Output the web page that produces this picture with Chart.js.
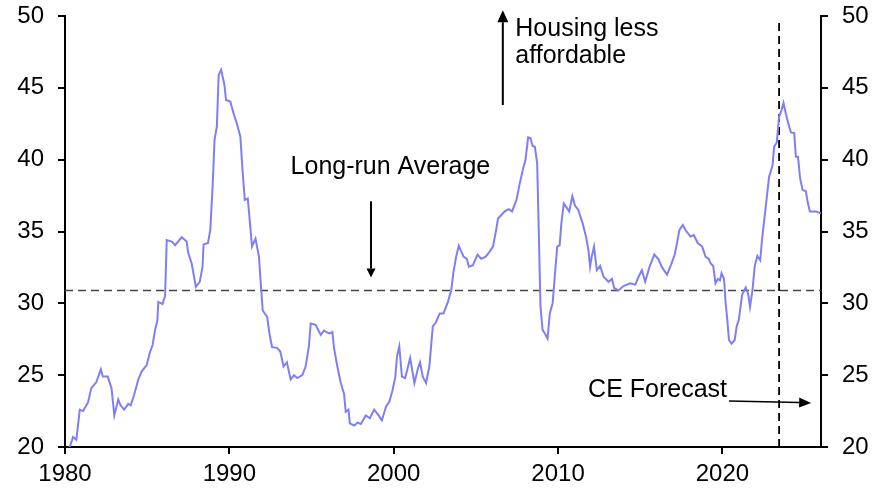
<!DOCTYPE html>
<html>
<head>
<meta charset="utf-8">
<script src="https://cdn.jsdelivr.net/npm/chart.js@4.4.1/dist/chart.umd.min.js"></script>
<style>
  html, body { margin: 0; padding: 0; background: #fff; }
  #wrap { width: 886px; height: 498px; }
</style>
</head>
<body>
<div id="wrap"><canvas id="chart" width="886" height="498"></canvas></div>
<script>
// decimal years and ratio
const years = [
  1980.29, 1980.49, 1980.69, 1980.9, 1981.1, 1981.4, 1981.6, 1981.9, 1982.18, 1982.3,
  1982.6, 1982.83, 1983.0, 1983.24, 1983.38, 1983.6, 1983.85, 1984.0, 1984.2, 1984.46,
  1984.66, 1984.97, 1985.17, 1985.33, 1985.48, 1985.62, 1985.68, 1985.93, 1986.09, 1986.19,
  1986.5, 1986.7, 1987.1, 1987.4, 1987.5, 1987.7, 1987.8, 1987.96, 1988.2, 1988.37,
  1988.43, 1988.7, 1988.84, 1988.98, 1989.1, 1989.24, 1989.35, 1989.5, 1989.7, 1989.8,
  1990.06, 1990.26, 1990.46, 1990.67, 1990.8, 1990.94, 1991.12, 1991.2, 1991.38, 1991.59,
  1991.8, 1991.9, 1992.03, 1992.3, 1992.44, 1992.6, 1992.9, 1993.1, 1993.3, 1993.5,
  1993.73, 1993.93, 1994.13, 1994.44, 1994.64, 1994.84, 1994.95, 1995.25, 1995.56, 1995.76,
  1996.07, 1996.27, 1996.37, 1996.57, 1996.78, 1996.98, 1997.08, 1997.25, 1997.33, 1997.6,
  1997.8, 1998.0, 1998.3, 1998.55, 1998.81, 1999.08, 1999.28, 1999.53, 1999.73, 1999.93,
  2000.1, 2000.2, 2000.34, 2000.5, 2000.7, 2001.0, 2001.26, 2001.46, 2001.6, 2001.77,
  2001.97, 2002.17, 2002.38, 2002.58, 2002.8, 2003.03, 2003.3, 2003.5, 2003.64, 2003.8,
  2003.96, 2004.25, 2004.45, 2004.57, 2004.82, 2005.1, 2005.33, 2005.6, 2005.84, 2006.04,
  2006.2, 2006.35, 2006.55, 2006.76, 2007.0, 2007.2, 2007.47, 2007.67, 2007.88, 2008.02,
  2008.18, 2008.32, 2008.45, 2008.59, 2008.73, 2008.83, 2008.93, 2009.06, 2009.2, 2009.36,
  2009.5, 2009.67, 2009.8, 2009.95, 2010.1, 2010.2, 2010.35, 2010.5, 2010.68, 2010.87,
  2011.03, 2011.23, 2011.5, 2011.7, 2011.85, 2011.95, 2012.05, 2012.19, 2012.36, 2012.56,
  2012.77, 2013.07, 2013.28, 2013.42, 2013.68, 2013.98, 2014.39, 2014.7, 2014.9, 2015.1,
  2015.3, 2015.57, 2015.86, 2016.12, 2016.33, 2016.63, 2016.88, 2017.1, 2017.24, 2017.38,
  2017.59, 2017.75, 2018.06, 2018.26, 2018.5, 2018.77, 2018.97, 2019.17, 2019.28, 2019.44,
  2019.58, 2019.72, 2019.85, 2019.95, 2020.1, 2020.2, 2020.3, 2020.4, 2020.56, 2020.75,
  2020.87, 2021.0, 2021.2, 2021.42, 2021.56, 2021.68, 2021.83, 2021.97, 2022.13, 2022.3,
  2022.43, 2022.64, 2022.84, 2023.05, 2023.15, 2023.31, 2023.45, 2023.6, 2023.72, 2023.86,
  2024.0, 2024.17, 2024.37, 2024.47, 2024.6, 2024.73, 2024.88, 2025.08, 2025.18, 2025.32,
  2025.7, 2026.0
];
const ratio = [
  20.0, 20.7, 20.5, 22.6, 22.5, 23.1, 24.1, 24.5, 25.4, 24.9,
  24.9, 24.1, 22.2, 23.3, 22.9, 22.6, 23.0, 22.9, 23.6, 24.7,
  25.25, 25.7, 26.6, 27.1, 28.15, 28.8, 30.1, 29.95, 30.5, 34.4,
  34.3, 34.05, 34.6, 34.3, 33.5, 32.8, 32.2, 31.15, 31.5, 32.55,
  34.1, 34.2, 35.1, 38.1, 41.4, 42.3, 45.9, 46.25, 45.2, 44.15,
  44.05, 43.2, 42.5, 41.6, 39.3, 37.2, 37.3, 36.3, 33.95, 34.5,
  33.25, 31.6, 29.5, 29.05, 27.9, 26.95, 26.9, 26.65, 25.6, 25.9,
  24.7, 25.0, 24.8, 25.0, 25.6, 27.0, 28.6, 28.5, 27.8, 28.1,
  27.9, 28.0, 26.9, 25.6, 24.45, 23.7, 22.45, 22.6, 21.65, 21.5,
  21.7, 21.6, 22.2, 22.0, 22.6, 22.2, 21.85, 22.8, 23.15, 23.95,
  24.9, 26.3, 27.0, 24.9, 24.8, 26.2, 24.45, 25.4, 25.9, 24.9,
  24.45, 25.6, 28.4, 28.7, 29.3, 29.3, 30.1, 30.9, 32.2, 33.25,
  34.0, 33.25, 33.1, 32.55, 32.65, 33.4, 33.1, 33.25, 33.6, 33.95,
  34.9, 35.9, 36.15, 36.4, 36.55, 36.4, 37.2, 38.35, 39.4, 40.0,
  41.55, 41.5, 40.95, 40.9, 39.75, 34.9, 29.8, 28.15, 27.9, 27.55,
  29.3, 30.0, 31.85, 33.95, 34.05, 35.55, 36.95, 36.7, 36.4, 37.45,
  36.8, 36.5, 35.55, 34.65, 33.7, 32.55, 33.25, 33.95, 32.3, 32.6,
  31.85, 31.5, 31.7, 31.05, 30.9, 31.2, 31.4, 31.3, 31.85, 32.3,
  31.5, 32.55, 33.4, 33.05, 32.5, 32.0, 32.7, 33.4, 34.2, 35.1,
  35.45, 35.1, 34.65, 34.75, 34.2, 33.95, 33.25, 33.1, 32.8, 32.6,
  31.4, 31.7, 31.6, 32.1, 31.7, 30.0, 28.85, 27.45, 27.2, 27.45,
  28.4, 28.85, 30.6, 31.1, 30.7, 29.75, 30.9, 32.6, 33.3, 33.0,
  34.65, 36.75, 38.8, 39.6, 40.9, 41.2, 43.0, 43.45, 43.95, 43.2,
  42.55, 41.9, 41.85, 40.2, 40.2, 38.7, 37.9, 37.8, 37.1, 36.4,
  36.4, 36.25
];
const xTickYears = [1980, 1990, 2000, 2010, 2020];
const longRunAverage = 30.9;
const forecastStart = 2023.45;

const FONT = '"Liberation Sans", Arial, sans-serif';

function arrow(ctx, x1, y1, x2, y2, headLen, headW) {
  const ang = Math.atan2(y2 - y1, x2 - x1);
  const bx = x2 - headLen * Math.cos(ang);
  const by = y2 - headLen * Math.sin(ang);
  ctx.beginPath();
  ctx.moveTo(x1, y1);
  ctx.lineTo(bx, by);
  ctx.stroke();
  ctx.beginPath();
  ctx.moveTo(x2, y2);
  ctx.lineTo(bx + headW / 2 * Math.sin(ang), by - headW / 2 * Math.cos(ang));
  ctx.lineTo(bx - headW / 2 * Math.sin(ang), by + headW / 2 * Math.cos(ang));
  ctx.closePath();
  ctx.fill();
}

// text and arrows on top of the chart
const notes = {
  id: "notes",
  afterDraw(chart) {
    const ctx = chart.ctx;
    const xs = chart.scales.x;
    const ys = chart.scales.y;
    const px = v => xs.getPixelForValue(v);
    const py = v => ys.getPixelForValue(v);
    ctx.save();
    ctx.fillStyle = "#000";
    ctx.strokeStyle = "#000";
    ctx.lineWidth = 2;
    ctx.font = "25px " + FONT;
    ctx.textBaseline = "alphabetic";

    ctx.textAlign = "center";
    ctx.fillText("Long-run Average", px(1999.8), py(39.0));
    arrow(ctx, px(1998.62), py(37.1), px(1998.62), py(31.8), 9, 9);

    ctx.textAlign = "left";
    ctx.fillText("Housing less", px(2007.4), py(48.6));
    ctx.fillText("affordable", px(2007.4), py(46.7));
    arrow(ctx, px(2006.64), py(43.8), px(2006.64), py(50.4), 12, 11);

    ctx.fillText("CE Forecast", px(2011.83), py(23.45));
    ctx.lineWidth = 1.5;
    arrow(ctx, px(2020.4), py(23.2), px(2025.4), py(23.07), 12, 10);
    ctx.restore();
  }
};

const points = years.map((x, i) => ({ x: x, y: ratio[i] }));

const axisFont = { family: FONT, size: 24 };

// fixed axis sizes so the plot area sits where the reference has it
function fitY(s) {
  s.width = 65;
  s.paddingTop = 0;
  s.paddingBottom = 0;
}

new Chart(document.getElementById("chart").getContext("2d"), {
  type: "line",
  data: {
    datasets: [
      {
        data: points,
        borderColor: "#7f7ff5",
        borderWidth: 2,
        pointRadius: 0,
        tension: 0
      },
      {
        data: [{ x: 1980, y: longRunAverage }, { x: 2026, y: longRunAverage }],
        borderColor: "#444",
        borderWidth: 1.5,
        borderDash: [8, 5],
        pointRadius: 0
      },
      {
        data: [{ x: forecastStart, y: 20 }, { x: forecastStart, y: 49.6 }],
        borderColor: "#000",
        borderWidth: 1.8,
        borderDash: [8, 5],
        pointRadius: 0
      }
    ]
  },
  options: {
    responsive: false,
    animation: false,
    layout: { padding: { top: 16, left: 0, right: 0, bottom: 0 } },
    plugins: { legend: { display: false }, tooltip: { enabled: false } },
    scales: {
      x: {
        type: "linear",
        min: 1980,
        max: 2026,
        afterBuildTicks: s => { s.ticks = xTickYears.map(v => ({ value: v })); },
        afterFit: s => { s.height = 51; s.paddingLeft = 0; s.paddingRight = 0; },
        ticks: { font: axisFont, color: "#000", padding: 6, maxRotation: 0, callback: v => String(v) },
        grid: { drawOnChartArea: false, drawTicks: true, tickLength: 7, color: "#000", lineWidth: 2 },
        border: { display: true, color: "#000", width: 2 }
      },
      y: {
        position: "left",
        min: 20,
        max: 50,
        ticks: { stepSize: 5, font: axisFont, color: "#000", padding: 14 },
        afterFit: fitY,
        grid: { drawOnChartArea: false, drawTicks: true, tickLength: 7, color: "#000", lineWidth: 2 },
        border: { display: true, color: "#000", width: 2 }
      },
      y2: {
        position: "right",
        min: 20,
        max: 50,
        ticks: { stepSize: 5, font: axisFont, color: "#000", padding: 14 },
        afterFit: fitY,
        grid: { drawOnChartArea: false, drawTicks: true, tickLength: 7, color: "#000", lineWidth: 2 },
        border: { display: true, color: "#000", width: 2 }
      }
    }
  },
  plugins: [notes]
});
</script>
</body>
</html>
